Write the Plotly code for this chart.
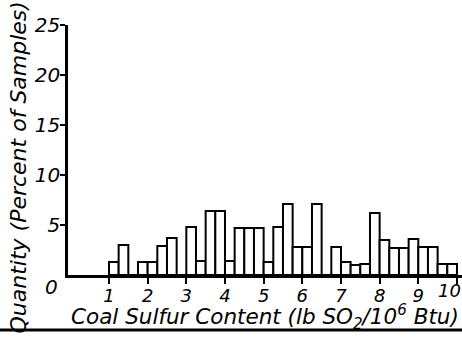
import plotly.graph_objects as go

# Bin left edges (lb SO2 / 10^6 Btu), bin width 0.25
bin_left = [1.00, 1.25, 1.50, 1.75, 2.00, 2.25, 2.50, 2.75, 3.00, 3.25, 3.50, 3.75,
            4.00, 4.25, 4.50, 4.75, 5.00, 5.25, 5.50, 5.75, 6.00, 6.25, 6.50, 6.75,
            7.00, 7.25, 7.50, 7.75, 8.00, 8.25, 8.50, 8.75, 9.00, 9.25, 9.50, 9.75]
bin_width = 0.25
# Quantity (percent of samples)
quantity = [1.3, 3.0, 0.0, 1.3, 1.3, 2.9, 3.7, 0.0, 4.8, 1.4, 6.4, 6.4,
            1.4, 4.7, 4.7, 4.7, 1.3, 4.8, 7.1, 2.8, 2.8, 7.1, 0.0, 2.8,
            1.3, 1.0, 1.1, 6.2, 3.5, 2.7, 2.7, 3.6, 2.8, 2.8, 1.1, 1.1]

x_ticks = [1, 2, 3, 4, 5, 6, 7, 8, 9, 10]
x_tick_text = ["1", "2", "3", "4", "5", "6", "7", "8", "9", ""]
y_ticks = [5, 10, 15, 20, 25]
y_tick_text = ["5", "10", "15", "20", "25"]

FONT = "DejaVu Sans"

centers = [b + bin_width / 2 for b in bin_left]

fig = go.Figure(go.Bar(
    x=centers, y=quantity, width=bin_width,
    marker=dict(color="white", line=dict(color="black", width=2)),
))

fig.update_layout(
    width=462, height=338,
    margin=dict(l=68, r=0, t=25, b=63),
    plot_bgcolor="white", paper_bgcolor="white",
    showlegend=False,
    font=dict(family=FONT, color="black"),
    xaxis=dict(range=[-0.06, 10.13], showline=True, linecolor="black", linewidth=2.5,
               ticks="outside", ticklen=6, tickwidth=2, tickcolor="black",
               tickvals=x_ticks, ticktext=x_tick_text, showgrid=False, zeroline=False,
               ticklabelstandoff=-3,
               tickfont=dict(family=FONT, size=18, style="italic")),
    yaxis=dict(range=[0, 25], showline=True, linecolor="black", linewidth=2.5,
               ticks="outside", ticklen=5, tickwidth=2, tickcolor="black",
               tickvals=y_ticks, ticktext=y_tick_text, showgrid=False, zeroline=False,
               ticklabelstandoff=-4,
               tickfont=dict(family=FONT, size=20, style="italic")),
)

fig.add_annotation(text="0", xref="paper", yref="y", x=0, y=0, xanchor="right", yanchor="top",
                   xshift=-8, yshift=2, showarrow=False,
                   font=dict(family=FONT, size=20, style="italic"))
fig.add_annotation(text="10", xref="x", yref="paper", x=x_ticks[-1], y=0, xanchor="center",
                   yanchor="top", xshift=-7, yshift=-3, showarrow=False,
                   font=dict(family=FONT, size=18, style="italic"))
fig.add_annotation(text="Coal Sulfur Content (lb SO<sub>2</sub>/10<sup>6</sup> Btu)",
                   xref="paper", yref="paper", x=0.5, y=-0.168, xanchor="center", yanchor="middle",
                   showarrow=False, xshift=0,
                   font=dict(family=FONT, size=21.5, style="italic"))
fig.add_annotation(text="Quantity (Percent of Samples)", textangle=-90,
                   xref="paper", yref="paper", x=0, y=0.43, xanchor="center", yanchor="middle",
                   xshift=-50, showarrow=False,
                   font=dict(family=FONT, size=22, style="italic"))
fig.add_shape(type="line", xref="paper", yref="paper", x0=-0.2, x1=1.0, y0=-0.22, y1=-0.22,
              line=dict(color="black", width=3))

fig.write_html("out.html")
